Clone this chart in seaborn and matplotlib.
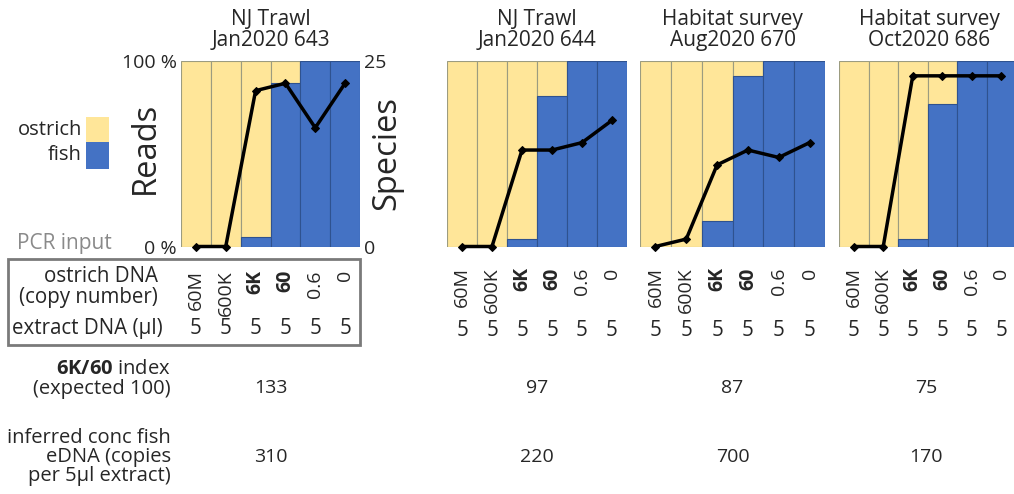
import numpy as np
import pandas as pd
import matplotlib
matplotlib.use("Agg")
import matplotlib.pyplot as plt
import seaborn as sns
from matplotlib.patches import Rectangle
from matplotlib.transforms import blended_transform_factory

# ---------------- data ----------------
panel_titles = ["NJ Trawl\nJan2020 643", "NJ Trawl\nJan2020 644",
                "Habitat survey\nAug2020 670", "Habitat survey\nOct2020 686"]
ostrich_dna = ["60M", "600K", "6K", "60", "0.6", "0"]
bold_labels = ["6K", "60"]
extract_ul = [5, 5, 5, 5, 5, 5]
total_pct = [100, 100, 100, 100, 100, 100]
fish_643 = [0, 0, 5, 88, 100, 100]
fish_644 = [0, 0, 4, 81, 100, 100]
fish_670 = [0, 0, 14, 92, 100, 100]
fish_686 = [0, 0, 4, 77, 100, 100]
species_643 = [0, 0, 21, 22, 16, 22]
species_644 = [0, 0, 13, 13, 14, 17]
species_670 = [0, 1, 11, 13, 12, 14]
species_686 = [0, 0, 23, 23, 23, 23]
index_6k60 = [133, 97, 87, 75]
inferred_conc = [310, 220, 700, 170]

fish_all = [fish_643, fish_644, fish_670, fish_686]
species_all = [species_643, species_644, species_670, species_686]

# ---------------- style ----------------
sns.set_theme(style="white")
plt.rcParams["font.family"] = ["Open Sans", "DejaVu Sans"]
plt.rcParams["mathtext.fontset"] = "custom"
plt.rcParams["mathtext.rm"] = "Open Sans"
plt.rcParams["mathtext.bf"] = "Open Sans:bold"

YEL = "#FFE699"
YEL_EDGE = "#9C9C80"
BLUE = "#4472C4"
BLUE_EDGE = "#2F528F"
GRAY = "#8A8A8A"
FS = 14.8
TICK_FS = 14

W, H = 1014, 494
fig = plt.figure(figsize=(W / 100, H / 100), dpi=100)


def fx(x):
    return x / W


def fy(y):
    return 1 - y / H


panel_x = [(181, 360), (447, 627), (640, 825), (839, 1016)]
TOP, BOT = 61, 246.5
label_row_y = [328, 330, 330, 330]

for k in range(4):
    x0, x1 = panel_x[k]
    ax = fig.add_axes([fx(x0), fy(BOT), (x1 - x0) / W, (BOT - TOP) / H])
    df = pd.DataFrame({"dna": ostrich_dna, "total": total_pct, "fish": fish_all[k]})
    sns.barplot(data=df, x="dna", y="total", order=ostrich_dna, color=YEL,
                saturation=1, width=1, edgecolor=YEL_EDGE, linewidth=0.8, ax=ax)
    n_before = len(ax.patches)
    sns.barplot(data=df, x="dna", y="fish", order=ostrich_dna, color=BLUE,
                saturation=1, width=1, edgecolor=BLUE_EDGE, linewidth=0.8, ax=ax)
    for p in ax.patches[n_before:]:
        if p.get_height() == 0:
            p.set_linewidth(0)
    ax.set_xlim(-0.5, 5.5)
    ax.set_ylim(0, 100)
    ax.set_xlabel("")
    ax.set_ylabel("")
    for s in ax.spines.values():
        s.set_visible(False)
    ax.set_xticks(range(len(ostrich_dna)))
    ax.set_xticklabels(ostrich_dna, rotation=90, fontsize=TICK_FS)
    for lab in ax.get_xticklabels():
        if lab.get_text() in bold_labels:
            lab.set_fontweight("bold")
    ax.tick_params(axis="x", length=0, pad=17 if k == 0 else 15)
    if k == 0:
        ax.set_yticks([0, 100])
        ax.set_yticklabels(["0 %", "100 %"], fontsize=14)
        ax.tick_params(axis="y", length=0, pad=3)
    else:
        ax.set_yticks([])

    ax2 = ax.twinx()
    sns.lineplot(x=np.arange(len(ostrich_dna)), y=species_all[k], ax=ax2,
                 color="black", linewidth=2.5, marker="D", markersize=4,
                 markeredgecolor="black", clip_on=False, zorder=5)
    ax2.set_xlim(-0.5, 5.5)
    ax2.set_ylim(0, 25)
    for s in ax2.spines.values():
        s.set_visible(False)
    if k == 0:
        ax2.set_yticks([0, 25])
        ax2.set_yticklabels(["0", "25"], fontsize=14)
        ax2.tick_params(axis="y", length=0, pad=3)
    else:
        ax2.set_yticks([])

    # title
    fig.text(fx((x0 + x1) / 2 if k < 3 else 929), fy(30), panel_titles[k],
             ha="center", va="center", fontsize=15, linespacing=1.0)

    # extract DNA row
    tr = blended_transform_factory(ax.transData, fig.transFigure)
    for i, v in enumerate(extract_ul):
        ax.text(i, fy(label_row_y[k]), str(v), transform=tr, ha="center",
                va="center", fontsize=FS)

    # bottom values
    cx = (x0 + x1) / 2 if k < 3 else 926
    fig.text(fx(cx), fy(388), str(index_6k60[k]), ha="center", va="center", fontsize=14)
    fig.text(fx(cx), fy(457), str(inferred_conc[k]), ha="center", va="center", fontsize=14)

# axis titles
fig.text(fx(145), fy(148), "Reads", rotation=90, ha="center", va="center", fontsize=23.5)
fig.text(fx(387), fy(153), "Species", rotation=90, ha="center", va="center", fontsize=23.5)

# legend
fig.text(fx(82), fy(130), "ostrich", ha="right", va="center", fontsize=14.5)
fig.text(fx(82), fy(155), "fish", ha="right", va="center", fontsize=14.5)
fig.patches.append(Rectangle((fx(86), fy(142)), 23 / W, 25 / H, facecolor=YEL,
                             edgecolor="none", transform=fig.transFigure, figure=fig))
fig.patches.append(Rectangle((fx(86), fy(169)), 23 / W, 27 / H, facecolor=BLUE,
                             edgecolor="none", transform=fig.transFigure, figure=fig))

# PCR input table
fig.text(fx(17), fy(243), "PCR input", ha="left", va="center", fontsize=15, color=GRAY)
fig.patches.append(Rectangle((fx(8), fy(345)), 352 / W, 86 / H, facecolor="none",
                             edgecolor="#7A7A7A", linewidth=2,
                             transform=fig.transFigure, figure=fig))
fig.text(fx(158), fy(287), "ostrich DNA\n(copy number)", ha="right", va="center",
         multialignment="right", fontsize=FS, linespacing=0.95)
fig.text(fx(12), fy(328), "extract DNA (µl)", ha="left", va="center", fontsize=FS)

# bottom row labels
fig.text(fx(171), fy(379), r"$\mathbf{6K/60}$ index" + "\n(expected 100)", ha="right",
         va="center", multialignment="right", fontsize=14.5, linespacing=0.95)
fig.text(fx(171), fy(457), "inferred conc fish\neDNA (copies\nper 5µl extract)",
         ha="right", va="center", multialignment="right", fontsize=14.5, linespacing=0.95)

fig.savefig("out.png", dpi=100)
